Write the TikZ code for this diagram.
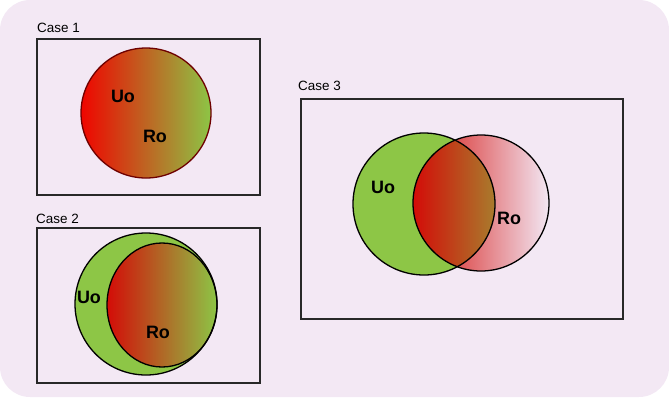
\documentclass[tikz,border=0pt]{standalone}
\usepackage{fontspec}
\setmainfont{Liberation Sans}
\usetikzlibrary{fadings}
\definecolor{bgpink}{RGB}{243,232,244}
\definecolor{vgreen}{RGB}{141,198,70}
\definecolor{vred}{RGB}{240,5,0}
\definecolor{dred}{RGB}{212,12,8}
\definecolor{edgered}{RGB}{110,0,0}
\definecolor{boxgray}{RGB}{40,40,40}
\tikzfading[name=slowfade, left color=transparent!0, middle color=transparent!28, right color=transparent!100]
\begin{document}
\begin{tikzpicture}[x=1bp,y=-1bp,
  casebox/.style={draw=boxgray, line width=1.1bp, fill=none},
  caselabel/.style={anchor=west, inner sep=0pt, font=\fontsize{13.5}{15}\selectfont},
  setlabel/.style={inner sep=0pt, font=\fontsize{18}{20}\selectfont\bfseries},
  greenset/.style={fill=vgreen},
  setedge/.style={draw=black, line width=1.3bp}]
\useasboundingbox (0,0) rectangle (669,400);
\fill[bgpink, rounded corners=30bp] (0,0) rectangle (669,397);

% Case 1
\draw[casebox] (37,39) rectangle (260,195);
\node[caselabel] (l1) at (37,28) {Case 1};
\fill[greenset] (146,113) circle[radius=65bp];
\fill[vred, path fading=east] (146,113) circle[radius=65bp];
\draw[draw=edgered, line width=1.3bp] (146,113) circle[radius=65bp];
\node[setlabel] (u1) at (123,96) {Uo};
\node[setlabel] (r1) at (155,136) {Ro};

% Case 2
\draw[casebox] (37,228) rectangle (260,383);
\node[caselabel] (l2) at (36,219) {Case 2};
\fill[greenset] (146,304) circle[radius=71bp];
\draw[setedge] (146,304) circle[radius=71bp];
\fill[dred, path fading=east] (162,305) ellipse[x radius=55bp, y radius=62bp];
\draw[setedge] (162,305) ellipse[x radius=55bp, y radius=62bp];
\node[setlabel] (u2) at (89,297) {Uo};
\node[setlabel] (r2) at (158,332) {Ro};

% Case 3
\draw[casebox] (301,99) rectangle (623,319);
\node[caselabel] (l3) at (298,86) {Case 3};
\fill[greenset] (424,204) circle[radius=71bp];
\fill[dred, path fading=slowfade] (481,203) circle[radius=68bp];
\draw[setedge] (424,204) circle[radius=71bp];
\draw[setedge] (481,203) circle[radius=68bp];
\node[setlabel] (u3) at (383,187) {Uo};
\node[setlabel] (r3) at (509,218) {Ro};
\end{tikzpicture}
\end{document}
